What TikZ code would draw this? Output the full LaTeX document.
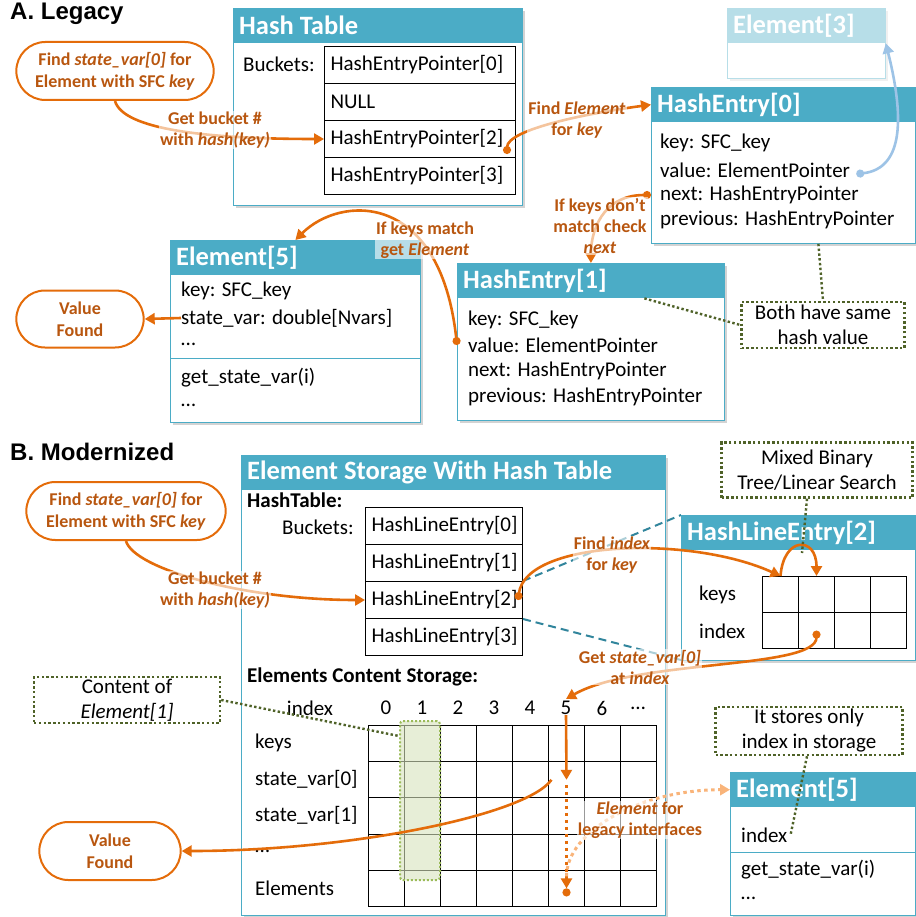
\documentclass[tikz,border=0pt]{standalone}
\usepackage{fontspec}
\setmainfont{Carlito}
\newfontfamily\headfont{Liberation Sans}
\usetikzlibrary{arrows.meta,shapes.misc,shadows}

\definecolor{headblue}{HTML}{4BACC6}
\definecolor{paleblue}{HTML}{B7DEE8}
\definecolor{linkorange}{HTML}{E46C0A}
\definecolor{paleorange}{HTML}{F9B47A}
\definecolor{labelbrown}{HTML}{B8560F}
\definecolor{ptrblue}{HTML}{9DC3E6}
\definecolor{noteolive}{HTML}{4F6228}
\definecolor{dashteal}{HTML}{31859C}
\definecolor{colgreen}{HTML}{9BBB59}
\definecolor{colfill}{HTML}{D7E4BD}

\tikzset{
 txt/.style={anchor=west,inner sep=0pt,font=\fontsize{21}{25}\selectfont},
 ttl/.style={anchor=west,inner sep=0pt,text=white,font=\fontsize{26.5}{30}\selectfont\bfseries},
 sec/.style={anchor=west,inner sep=0pt,font=\headfont\fontsize{24}{28}\selectfont\bfseries},
 boxbody/.style={draw=headblue,line width=0.8pt,fill=white,anchor=north west,inner sep=0pt,
   drop shadow={shadow xshift=2.5pt,shadow yshift=-2.5pt,opacity=0.35}},
 fadedbody/.style={draw=paleblue,line width=0.8pt,fill=white,anchor=north west,inner sep=0pt,
   drop shadow={shadow xshift=2.5pt,shadow yshift=-2.5pt,opacity=0.12}},
 boxhead/.style={fill=headblue,anchor=north west,inner sep=0pt,minimum height=35pt},
 bucket/.style={draw,line width=1pt,anchor=north west,minimum height=37pt,inner xsep=6pt,inner ysep=0pt,
   align=left,font=\fontsize{21}{25}\selectfont},
 cell/.style={draw,line width=1pt,anchor=north west,minimum width=36pt,minimum height=36.2pt,inner sep=0pt},
 goal/.style={rounded rectangle,draw=linkorange,line width=2pt,text=labelbrown,align=center,
   font=\fontsize{18}{22}\selectfont\bfseries},
 lbl/.style={text=labelbrown,align=center,font=\fontsize{18}{21}\selectfont\bfseries,
   fill=white,fill opacity=0.6,text opacity=1,inner sep=1pt},
 note/.style={draw=noteolive,line width=2.4pt,dash pattern=on 2.4pt off 2.4pt,align=center,inner sep=0pt,
   font=\fontsize{21}{25}\selectfont},
 notelink/.style={draw=noteolive,line width=2.4pt,dash pattern=on 2.4pt off 2.4pt},
 link/.style={draw=linkorange,line width=2.6pt,-{Triangle[length=10pt,width=11pt]}},
 dotlink/.style={link,{Circle[length=8pt]}-{Triangle[length=10pt,width=11pt]}},
 ptr/.style={draw=ptrblue,line width=2.6pt,{Circle[length=8pt]}-{Triangle[length=10pt,width=11pt]}},
 sepline/.style={draw=headblue,line width=0.8pt},
 tealdash/.style={draw=dashteal,line width=2pt,dash pattern=on 8pt off 5pt},
 colmark/.style={fill=colfill,fill opacity=0.6,draw=colgreen,line width=2pt,dash pattern=on 2pt off 2pt,
   rounded corners=3pt},
 legacyptr/.style={draw=paleorange,line width=3pt,dash pattern=on 3.5pt off 3.5pt,-{Triangle[length=10pt,width=11pt]}}
}

\newcommand{\classbox}[6]{%
 \node[boxbody,minimum width=#4pt,minimum height=#5pt] (#1) at (#2,#3) {};
 \node[boxhead,minimum width=#4pt] (#1-head) at (#1.north west) {};
 \node[ttl] (#1-title) at ([xshift=6pt]#1-head.west) {#6};
}

\begin{document}
\begin{tikzpicture}[x=1pt,y=-1pt]
\useasboundingbox (0,0) rectangle (915,917);

% A. Legacy
\node[sec] (secA) at (10,14) {A. Legacy};
\node[goal,minimum width=204pt,minimum height=58pt] (findA) at (115,71) {Find \textit{state\_var[0]} for\\Element with SFC \textit{key}};

\classbox{ht}{233}{8}{289}{197}{Hash Table}
\node[txt] (ht-b) at (243,64) {Buckets:};
\foreach \i/\t in {0/HashEntryPointer[0],1/NULL,2/HashEntryPointer[2],3/HashEntryPointer[3]}
 \node[bucket,text width=179pt] (hb\i) at (324,46+37*\i) {\t};

\node[fadedbody,minimum width=158pt,minimum height=70pt] (el3) at (727,8) {};
\node[boxhead,fill=paleblue,minimum width=158pt] (el3-head) at (el3.north west) {};
\node[ttl] (el3-title) at ([xshift=6pt]el3-head.west) {Element[3]};

\classbox{he0}{651}{87}{264}{156}{HashEntry[0]}
\foreach \n/\y/\t in {k/143/key: SFC\_key,v/170/value: ElementPointer,n/195/next: HashEntryPointer,p/220/previous: HashEntryPointer}
 \node[txt] (he0-\n) at (660,\y) {\t};

\classbox{he1}{457}{263}{267}{157}{HashEntry[1]}
\foreach \n/\y/\t in {k/320/key: SFC\_key,v/345/value: ElementPointer,n/371/next: HashEntryPointer,p/397/previous: HashEntryPointer}
 \node[txt] (he1-\n) at (468,\y) {\t};

\classbox{el5a}{170}{240}{250}{182}{Element[5]}
\foreach \n/\y/\t in {k/291/key: SFC\_key,s/318/state\_var: double[Nvars],d/344/…,g/378/get\_state\_var(i),e/405/…}
 \node[txt] (el5a-\n) at (181,\y) {\t};
\draw[sepline] ([yshift=-118pt]el5a.north west) -- ([yshift=-118pt]el5a.north east);

\node[goal,minimum width=134pt,minimum height=57pt] (foundA) at (80,319) {Value\\Found};
\node[note,minimum width=163pt,minimum height=46pt] (sameh) at (823,325) {Both have same\\hash value};

\draw[link] (findA.south) .. controls +(8,28) and +(-120,0) .. (hb2.west);
\draw[dotlink] ([xshift=-9pt,yshift=4pt]hb2.south east) .. controls +(0,-25) and +(-60,8) .. (he0-head.west);
\draw[ptr] ([xshift=6pt,yshift=-4pt]he0-v.east) .. controls +(45,-5) and +(20,80) .. (el3.east);
\draw[dotlink] (he0.west |- he0-n) .. controls +(-50,0) and +(0,-30) .. (he1.north);
\draw[dotlink] (he1.west |- he1-v) .. controls +(-17,-155) and +(45,-45) .. (el5a.north);
\draw[link] (el5a-s.west) -- (foundA.east);
\draw[notelink] ([xshift=35pt]he0.south) -- (sameh.north);
\draw[notelink] ([xshift=-80pt]he1-head.south east) -- (sameh.west);

\node[lbl] (getA) at (215,130) {Get bucket \#\\with \textit{hash(key)}};
\node[lbl] (findEl) at (577,120) {Find \textit{Element}\\for \textit{key}};
\node[lbl] (nomatch) at (600,226) {If keys don’t\\match check\\\textit{next}};
\node[lbl] (match) at (425,240) {If keys match\\get \textit{Element}};

% B. Modernized
\node[sec] (secB) at (10,452) {B. Modernized};
\node[goal,minimum width=206pt,minimum height=58pt] (findB) at (126,511) {Find \textit{state\_var[0]} for\\Element with SFC \textit{key}};

\classbox{est}{241}{455}{424}{460}{Element Storage With Hash Table}
\node[txt,font=\fontsize{21}{25}\selectfont\bfseries] (est-ht) at (247,500) {HashTable:};
\node[txt] (est-b) at (282,527) {Buckets:};
\foreach \i in {0,...,3}
 \node[bucket,text width=145pt] (hl\i) at (365,507+37*\i) {HashLineEntry[\i]};

\draw[tealdash] (hl2.north east) -- (681,515);
\draw[tealdash] (hl2.south east) -- (681,660);

\classbox{hle}{681}{515}{234}{145}{HashLineEntry[2]}
\node[txt] (hle-k) at (699,595) {keys};
\node[txt] (hle-i) at (699,631) {index};
\foreach \c in {0,...,3} {
 \node[cell] (hk\c) at (762+36*\c,576) {};
 \node[cell] (hi\c) at (762+36*\c,612) {};
}

\node[txt,font=\fontsize{21}{25}\selectfont\bfseries] (est-ecs) at (247,677) {Elements Content Storage:};
\node[txt,anchor=center] (est-idx) at (310,708) {index};
\foreach \c/\t in {0/0,1/1,2/2,3/3,4/4,5/5,6/6,7/…}
 \node[txt,anchor=center] (idx\c) at (386+36*\c,708) {\t};
\foreach \r in {0,...,4}
 \foreach \c in {0,...,7}
  \node[cell] (s\r\c) at (368+36*\c,725+36.2*\r) {};
\foreach \r/\t in {0/keys,1/state\_var[0],2/state\_var[1],3/…,4/Elements}
 \node[txt] (row\r) at (255,743+36.2*\r) {\t};
\node[colmark,minimum width=40pt,minimum height=159pt] (col1) at (420,800.5) {};

\node[goal,minimum width=148pt,minimum height=58pt] (foundB) at (110,851) {Value\\Found};
\node[note,minimum width=186pt,minimum height=46pt] (content) at (127,700) {Content of\\\textit{Element[1]}};
\node[note,minimum width=191pt,minimum height=55pt] (mixed) at (817,470) {Mixed Binary\\Tree/Linear Search};
\node[note,minimum width=187pt,minimum height=48pt] (stores) at (809,731) {It stores only\\index in storage};

\classbox{el5b}{730}{772}{185}{143}{Element[5]}
\node[txt] (el5b-i) at (741,835) {index};
\draw[sepline] ([yshift=-80pt]el5b.north west) -- ([yshift=-80pt]el5b.north east);
\node[txt] (el5b-g) at (741,870) {get\_state\_var(i)};
\node[txt] (el5b-d) at (741,898) {…};

\coordinate (searchpt) at (802,553);
\draw[link] (findB.south) .. controls +(8,28) and +(-120,0) .. (hl2.west);
\draw[dotlink] ([xshift=-5pt]hl2.east) .. controls +(8,-60) and +(-90,-41) .. (hk0.north);
\draw[link] (hk0.north) .. controls +(3,-40) and +(0,-40) .. (hk1.north);
\draw[dotlink] (hi1.center) .. controls +(0,39) and +(70,-40) .. ([yshift=2pt]idx5.north);
\draw[link] (idx5.south) -- (s15.center);
\draw[link,line width=3pt,dash pattern=on 3.5pt off 3.5pt,-{Triangle[length=10pt,width=11pt]Circle[length=8pt]}] ([yshift=-5pt]s15.center) -- ([yshift=-8pt]s45.center);
\draw[legacyptr] ([yshift=12pt]s45.center) .. controls +(0,-45) and +(-90,0) .. (el5b-head.west);
\draw[link] ([xshift=-15pt]s15.center) .. controls +(-25,35) and +(170,0) .. (foundB.east);
\draw[notelink] ([xshift=-10pt]mixed.south) -- (searchpt);
\draw[notelink] (content.east) -- ([yshift=-16pt]col1.north west);
\draw[notelink] ([xshift=-2pt]stores.south) -- ([xshift=3pt]el5b-i.east);

\node[lbl] (getB) at (215,590) {Get bucket \#\\with \textit{hash(key)}};
\node[lbl] (findIdx) at (612,555) {Find \textit{index}\\for \textit{key}};
\node[lbl] (getVar) at (640,667) {Get \textit{state\_var[0]}\\at \textit{index}};
\node[lbl] (legacy) at (640,820) {\textit{Element} for\\legacy interfaces};
\end{tikzpicture}
\end{document}
